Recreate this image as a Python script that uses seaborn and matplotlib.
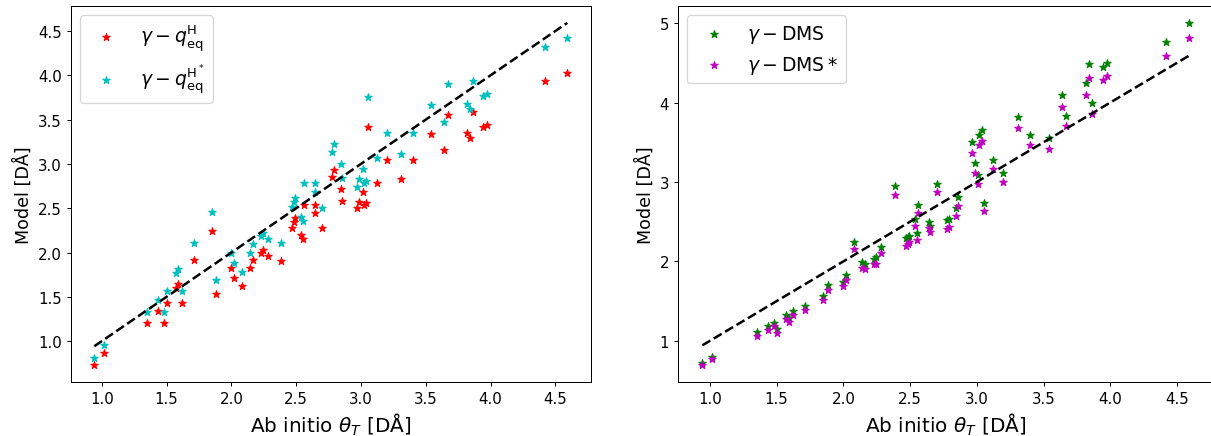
import matplotlib
matplotlib.use("Agg")
import matplotlib.pyplot as plt
import seaborn as sns
import numpy as np

# ---- data ----
ab_initio = [0.943, 1.019, 1.353, 1.432, 1.481, 1.500, 1.571, 1.592, 1.620, 1.715,
             1.848, 1.885, 1.995, 2.018, 2.080, 2.140, 2.165, 2.226, 2.245, 2.284,
             2.385, 2.468, 2.482, 2.489, 2.535, 2.555, 2.560, 2.645, 2.648, 2.700,
             2.773, 2.790, 2.843, 2.856, 2.967, 2.985, 3.012, 3.020, 3.038, 3.052,
             3.122, 3.198, 3.305, 3.402, 3.539, 3.638, 3.672, 3.817, 3.840, 3.863,
             3.945, 3.972, 4.420, 4.592]

q_h = [0.729, 0.861, 1.20, 1.339, 1.21, 1.43, 1.60, 1.64, 1.426, 1.92,
       2.24, 1.535, 1.82, 1.716, 1.625, 1.83, 1.915, 2.00, 2.03, 1.96,
       1.91, 2.28, 2.35, 2.39, 2.20, 2.15, 2.54, 2.54, 2.45, 2.28,
       2.856, 2.93, 2.72, 2.585, 2.50, 2.574, 2.68, 2.536, 2.555, 3.42,
       2.79, 3.04, 2.83, 3.04, 3.334, 3.16, 3.55, 3.345, 3.29, 3.59,
       3.42, 3.44, 3.936, 4.026]

q_h_star = [0.805, 0.955, 1.324, 1.47, 1.324, 1.57, 1.764, 1.81, 1.57, 2.11,
            2.46, 1.685, 2.00, 1.885, 1.78, 2.00, 2.10, 2.19, 2.22, 2.15,
            2.11, 2.517, 2.566, 2.62, 2.40, 2.355, 2.79, 2.79, 2.687, 2.50,
            3.14, 3.224, 2.995, 2.837, 2.743, 2.826, 2.94, 2.78, 2.806, 3.76,
            3.063, 3.345, 3.108, 3.345, 3.665, 3.477, 3.906, 3.676, 3.62, 3.935,
            3.77, 3.785, 4.324, 4.425]

dms = [0.723, 0.80, 1.113, 1.184, 1.23, 1.15, 1.32, 1.29, 1.37, 1.44,
       1.566, 1.708, 1.74, 1.834, 2.245, 1.99, 1.97, 2.035, 2.05, 2.18,
       2.95, 2.29, 2.31, 2.32, 2.53, 2.36, 2.714, 2.50, 2.45, 2.98,
       2.517, 2.53, 2.677, 2.81, 3.50, 3.24, 3.09, 3.586, 3.65, 2.74,
       3.28, 3.113, 3.82, 3.595, 3.553, 4.09, 3.83, 4.25, 4.48, 4.0,
       4.45, 4.50, 4.76, 5.004]

dms_star = [0.693, 0.769, 1.063, 1.133, 1.19, 1.104, 1.272, 1.239, 1.322, 1.385,
            1.51, 1.645, 1.687, 1.77, 2.16, 1.92, 1.90, 1.964, 1.97, 2.10,
            2.84, 2.20, 2.22, 2.24, 2.44, 2.274, 2.614, 2.42, 2.37, 2.874,
            2.41, 2.434, 2.572, 2.70, 3.37, 3.117, 2.975, 3.46, 3.52, 2.635,
            3.16, 2.995, 3.68, 3.46, 3.42, 3.94, 3.70, 4.09, 4.31, 3.85,
            4.28, 4.333, 4.585, 4.815]

left_labels = [r"$\gamma - q_{\rm eq}^{\rm H}$", r"$\gamma - q_{\rm eq}^{\rm H^*}$"]
right_labels = [r"$\gamma - \rm DMS$", r"$\gamma - \rm DMS*$"]
x_label = r"Ab initio $\theta_T$ [DÅ]"
y_label = "Model [DÅ]"

W, H, DPI = 1211, 437, 90
fig = plt.figure(figsize=(W / DPI, H / DPI), dpi=DPI)
ax1 = fig.add_axes([70.7 / W, 53.7 / H, 520.3 / W, 376.6 / H])
ax2 = fig.add_axes([678 / W, 53.7 / H, 535.6 / W, 376.6 / H])

ref = [min(ab_initio), max(ab_initio)]

def panel(ax, series, colors, labels):
    for ys, c, lab in zip(series, colors, labels):
        sns.scatterplot(x=ab_initio, y=ys, ax=ax, marker="*", s=40, color=c,
                        edgecolor=c, linewidth=0.8, label=lab)
    sns.lineplot(x=ref, y=ref, ax=ax, color="k", linestyle="--", linewidth=2)
    ax.set_xlabel(x_label, fontsize=16)
    ax.set_ylabel(y_label, fontsize=14)
    ax.tick_params(labelsize=12)
    ax.legend(loc="upper left", fontsize=15)

panel(ax1, [q_h, q_h_star], ["r", "c"], left_labels)
panel(ax2, [dms, dms_star], ["g", "m"], right_labels)

fig.savefig("out.png", dpi=DPI)
